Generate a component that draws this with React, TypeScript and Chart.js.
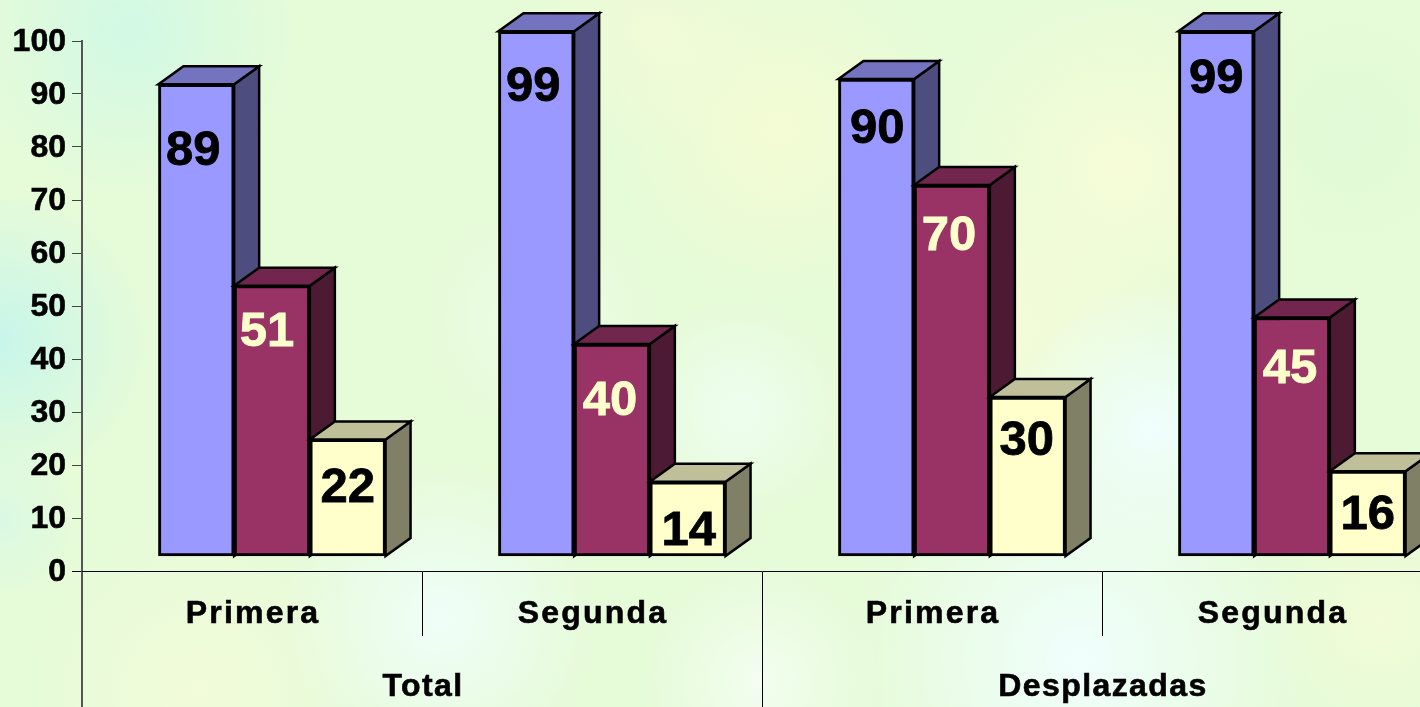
import React, { useEffect, useRef } from "react";
import Chart from "chart.js/auto";

const subCategories = ["Primera", "Segunda", "Primera", "Segunda"];
const groups = ["Total", "Desplazadas"];
const seriesA = [89, 99, 90, 99];
const seriesB = [51, 40, 70, 45];
const seriesC = [22, 14, 30, 16];
const yTicksMax = 100;

const FONT = "'Liberation Sans', Arial, sans-serif";
const DEPTH_X = 25;
const DEPTH_Y = 18;
const FLOOR_LIFT = 15;
const UNIT_PX = 5.3;
const SHIFT_CATS = 20 / 340;

const faces = [
  { front: "#9999FF", top: "#7373BF", side: "#4D4D80", text: "#000000" },
  { front: "#993366", top: "#73264D", side: "#4D1A33", text: "#FFFFCC" },
  { front: "#FFFFCC", top: "#BFBF99", side: "#808066", text: "#000000" },
];
const labelDrop = [
  [65, 54, 48, 46],
  [45, 55, 49, 50],
  [47, 48, 42, 42],
];
const labelNudge = [
  [-3, -3, 1, 0],
  [-5, -2, -3, -2],
  [0, 1, -1, 0],
];

const blobs: [number, number, number, string][] = [
  [130, 30, 170, "rgba(200,248,235,0.7)"],
  [0, 340, 150, "rgba(195,245,238,0.85)"],
  [0, 520, 80, "rgba(210,248,235,0.6)"],
  [780, 130, 170, "rgba(250,252,210,0.7)"],
  [1120, 170, 190, "rgba(250,252,215,0.8)"],
  [1010, 330, 150, "rgba(250,252,215,0.7)"],
  [650, 30, 120, "rgba(248,250,215,0.6)"],
  [1150, 430, 150, "rgba(240,255,255,0.95)"],
  [1080, 660, 230, "rgba(240,255,255,0.95)"],
  [440, 620, 160, "rgba(240,255,252,0.9)"],
  [200, 690, 170, "rgba(250,252,220,0.6)"],
  [740, 410, 110, "rgba(240,255,245,0.8)"],
  [540, 320, 120, "rgba(240,255,240,0.6)"],
  [760, 680, 120, "rgba(245,255,245,0.8)"],
  [1380, 620, 120, "rgba(245,252,215,0.8)"],
  [1350, 130, 130, "rgba(225,250,215,0.8)"],
];

const labelTweaks: Record<string, { spacing: string; dx: number; dy: number }> = {
  x: { spacing: "2.2px", dx: 1, dy: 0 },
  xGroup: { spacing: "1.4px", dx: 1, dy: -1 },
  y: { spacing: "0px", dx: 0, dy: 1.5 },
};

const backdrop = {
  id: "backdrop",
  beforeDraw(chart: any) {
    const { ctx, width, height } = chart;
    ctx.save();
    ctx.fillStyle = "#E6FBD8";
    ctx.fillRect(0, 0, width, height);
    for (const [x, y, r, c] of blobs) {
      const g = ctx.createRadialGradient(x, y, 0, x, y, r);
      g.addColorStop(0, c);
      g.addColorStop(1, c.replace(/[\d.]+\)$/, "0)"));
      ctx.fillStyle = g;
      ctx.fillRect(x - r, y - r, 2 * r, 2 * r);
    }
    ctx.restore();
    for (const id of Object.keys(labelTweaks)) {
      const s = chart.scales[id];
      if (s.__tweaked) continue;
      const orig = s.drawLabels;
      const t = labelTweaks[id];
      s.drawLabels = function (area: any) {
        ctx.save();
        ctx.letterSpacing = t.spacing;
        ctx.translate(t.dx, t.dy);
        orig.call(s, area);
        ctx.restore();
      };
      s.__tweaked = true;
    }
  },
};

const solidBars = {
  id: "solidBars",
  // Left-to-right painting: each series' side and top first, then its front,
  // so the next bar in a group overlaps the previous bar's side.
  beforeDatasetsDraw(chart: any) {
    const { ctx } = chart;
    chart.data.datasets.forEach((_ds: any, di: number) => {
      const meta = chart.getDatasetMeta(di);
      const style = faces[di];
      ctx.save();
      ctx.strokeStyle = "#000";
      ctx.lineWidth = 2.5;
      ctx.lineJoin = "miter";
      for (const bar of meta.data) {
        const { x, y, base, width } = bar.getProps(["x", "y", "base", "width"], true);
        const l = x - width / 2;
        const r = x + width / 2;
        ctx.fillStyle = style.side;
        ctx.beginPath();
        ctx.moveTo(r, y);
        ctx.lineTo(r + DEPTH_X, y - DEPTH_Y);
        ctx.lineTo(r + DEPTH_X, base - DEPTH_Y);
        ctx.lineTo(r, base);
        ctx.closePath();
        ctx.fill();
        ctx.stroke();
        ctx.fillStyle = style.top;
        ctx.beginPath();
        ctx.moveTo(l, y);
        ctx.lineTo(l + DEPTH_X, y - DEPTH_Y);
        ctx.lineTo(r + DEPTH_X, y - DEPTH_Y);
        ctx.lineTo(r, y);
        ctx.closePath();
        ctx.fill();
        ctx.stroke();
      }
      ctx.restore();
      meta.controller.draw();
    });
    ctx.save();
    ctx.font = `bold 49px ${FONT}`;
    ctx.textAlign = "center";
    ctx.textBaseline = "middle";
    ctx.lineWidth = 0.8;
    chart.data.datasets.forEach((ds: any, di: number) => {
      chart.getDatasetMeta(di).data.forEach((bar: any, i: number) => {
        const { x, y } = bar.getProps(["x", "y"], true);
        const px = x + labelNudge[di][i];
        const py = y + labelDrop[di][i] + 2;
        ctx.fillStyle = faces[di].text;
        ctx.strokeStyle = faces[di].text;
        ctx.fillText(String(ds.data[i].y), px, py);
        ctx.strokeText(String(ds.data[i].y), px, py);
      });
    });
    ctx.restore();
    return false;
  },
};

export default function App() {
  const ref = useRef<HTMLCanvasElement>(null);
  useEffect(() => {
    const toBars = (values: number[]) => values.map((y, x) => ({ x, y }));
    const mk = (label: string, values: number[], idx: number) => ({
      label,
      data: toBars(values),
      backgroundColor: faces[idx].front,
      borderColor: "#000",
      borderWidth: 3,
      borderSkipped: false,
      barThickness: 75.7,
      xAxisID: "xBars",
      yAxisID: "yBars",
      clip: false,
    });
    const tickFont = { family: FONT, size: 32, weight: "bold" };
    const heavy = { textStrokeWidth: 0.6, textStrokeColor: "#000" };
    const chart = new Chart(ref.current!, {
      type: "bar",
      data: {
        datasets: [mk("A", seriesA, 0), mk("B", seriesB, 1), mk("C", seriesC, 2)],
      } as any,
      options: {
        animation: false,
        responsive: false,
        layout: { padding: { top: 41, left: 0, right: 18, bottom: 0 } },
        plugins: { legend: { display: false }, tooltip: { enabled: false } },
        scales: {
          xBars: {
            type: "linear",
            display: false,
            offset: false,
            min: -0.5 - SHIFT_CATS,
            max: subCategories.length - 0.5 - SHIFT_CATS,
          },
          yBars: {
            type: "linear",
            display: false,
            min: -FLOOR_LIFT / UNIT_PX,
            max: yTicksMax - FLOOR_LIFT / UNIT_PX,
          },
          y: {
            type: "linear",
            position: "left",
            min: 0,
            max: yTicksMax,
            afterFit: (s: any) => { s.width = 82; },
            ticks: { stepSize: 10, padding: 6, color: "#000", font: tickFont, ...heavy },
            grid: {
              drawOnChartArea: false,
              tickLength: 10,
              color: (c: any) => (c.tick && c.tick.value === 0 ? "#000" : "#444"),
            },
            border: { display: true, color: "#555", width: 2 },
          },
          x: {
            type: "category",
            position: "bottom",
            weight: 0,
            labels: subCategories,
            offset: true,
            afterFit: (s: any) => { s.height = 65; },
            ticks: { color: "#000", padding: -41, maxRotation: 0, autoSkip: false, font: tickFont, ...heavy },
            grid: {
              offset: true,
              drawOnChartArea: false,
              tickLength: 65,
              color: (c: any) => (c.index === 0 ? "#555" : "#000"),
              lineWidth: (c: any) => (c.index === 0 ? 2 : 1),
            },
            border: { display: true, color: "#000", width: 1 },
          },
          xGroup: {
            type: "category",
            position: "bottom",
            weight: 1,
            labels: groups,
            offset: true,
            afterFit: (s: any) => { s.height = 71; },
            ticks: { color: "#000", padding: -38, maxRotation: 0, autoSkip: false, font: tickFont, ...heavy },
            grid: {
              offset: true,
              drawOnChartArea: false,
              tickLength: 71,
              color: (c: any) => (c.index === 0 ? "#555" : "#000"),
              lineWidth: (c: any) => (c.index === 0 ? 2 : 1),
            },
            border: { display: false },
          },
        },
      } as any,
      plugins: [backdrop, solidBars],
    });
    return () => chart.destroy();
  }, []);
  return (
    <div style={{ position: "fixed", left: 0, top: 0, width: 1420, height: 707, overflow: "hidden" }}>
      <canvas ref={ref} width={1460} height={707} style={{ display: "block" }} />
    </div>
  );
}
